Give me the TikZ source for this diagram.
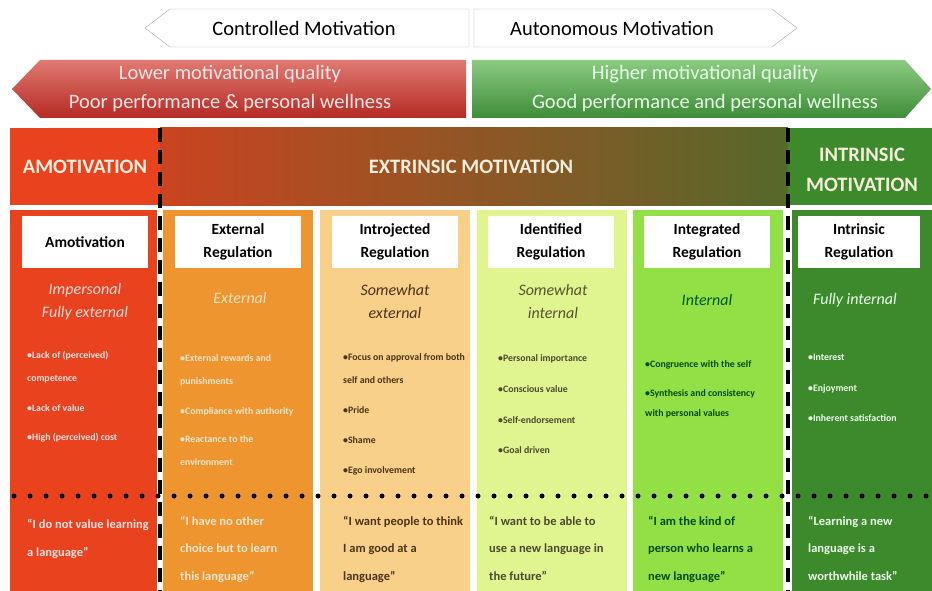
\documentclass[tikz,border=0pt]{standalone}
\usepackage{fontspec}
\setmainfont{Carlito}
\usetikzlibrary{arrows.meta}

\definecolor{amored}{HTML}{E8421E}
\definecolor{extorange}{HTML}{EE9530}
\definecolor{introbeige}{HTML}{F8D08A}
\definecolor{identlime}{HTML}{E0F590}
\definecolor{integgreen}{HTML}{92E045}
\definecolor{intrgreen}{HTML}{3D8A2C}
\definecolor{paletext}{HTML}{F6EEDC}
\definecolor{redtop}{HTML}{E07A72}
\definecolor{redbottom}{HTML}{B52A24}
\definecolor{greentop}{HTML}{8CCB82}
\definecolor{greenbottom}{HTML}{3E8C38}
\definecolor{extleft}{HTML}{CA4420}
\definecolor{extmid}{HTML}{9C5424}
\definecolor{extright}{HTML}{56682A}

\begin{document}
\begin{tikzpicture}[x=1pt, y=-1pt,
    banner/.style={font=\fontsize{20.5}{29}\selectfont, align=center},
    head/.style={font=\fontsize{20.5}{30}\selectfont\bfseries, text=paletext, align=center},
    titlebox/.style={fill=white, minimum width=126pt, minimum height=52pt, inner sep=0pt,
        align=center, font=\fontsize{15.5}{23}\selectfont\bfseries},
    sub/.style={align=center, font=\fontsize{16}{23}\selectfont\itshape},
    items/.style={anchor=base west, align=left, inner sep=0pt, font=\fontsize{9.8}{23}\selectfont\bfseries},
    says/.style={anchor=base west, align=left, inner sep=0pt, font=\fontsize{12.5}{27.5}\selectfont\bfseries},
    divider/.style={line width=4pt, dash pattern=on 14pt off 8pt}]
    \useasboundingbox (0,0) rectangle (932,591);

    % controlled / autonomous
    \draw[fill=white, draw=gray!70] (145,28) -- (170,9) -- (469,9) -- (469,47) -- (170,47) -- cycle;
    \draw[fill=white, draw=gray!70] (474,9) -- (772,9) -- (797,28) -- (772,47) -- (474,47) -- cycle;
    \node[banner] (ctrl) at (304,28) {Controlled Motivation};
    \node[banner] (auto) at (612,28) {Autonomous Motivation};

    % quality arrows
    \shade[top color=redtop, bottom color=redbottom] (12,89) -- (40,60) -- (466,60) -- (466,118) -- (40,118) -- cycle;
    \shade[top color=greentop, bottom color=greenbottom] (472,60) -- (905,60) -- (931,89) -- (905,118) -- (472,118) -- cycle;
    \node[banner, text=red!10!white] (lower) at (230,89) {Lower motivational quality\\Poor performance \& personal wellness};
    \node[banner, text=green!10!white] (higher) at (705,89) {Higher motivational quality\\Good performance and personal wellness};

    % header band
    \fill[amored] (10,128) rectangle (160,205);
    \shade[left color=extleft, middle color=extmid, right color=extright] (160,128) rectangle (788,205);
    \fill[intrgreen] (788,128) rectangle (932,205);
    \node[head] (amohead) at (85,167) {AMOTIVATION};
    \node[head] (exthead) at (471,167) {EXTRINSIC MOTIVATION};
    \node[head] (inthead) at (862,170) {INTRINSIC\\MOTIVATION};

    % columns
    \fill[amored] (10,210) rectangle (157,591);
    \fill[extorange] (163,210) rectangle (313,591);
    \fill[introbeige] (320,210) rectangle (470,591);
    \fill[identlime] (477,210) rectangle (627,591);
    \fill[integgreen] (633,210) rectangle (783,591);
    \fill[intrgreen] (792,210) rectangle (932,591);

    \node[titlebox] (amo) at (85,242) {Amotivation};
    \node[titlebox] (ext) at (238,242) {External\\Regulation};
    \node[titlebox] (intro) at (395,242) {Introjected\\Regulation};
    \node[titlebox] (ident) at (551,242) {Identified\\Regulation};
    \node[titlebox] (integ) at (707,242) {Integrated\\Regulation};
    \node[titlebox, minimum width=122pt] (intr) at (859,242) {Intrinsic\\Regulation};

    \node[sub, text=red!15!white] (amosub) at (85,302) {Impersonal\\Fully external};
    \node[sub, text=orange!25!white] (extsub) at (240,298) {External};
    \node[sub, text=brown!40!black] (introsub) at (395,302) {Somewhat\\external};
    \node[sub, text=olive!50!black] (identsub) at (553,302) {Somewhat\\internal};
    \node[sub, text=green!35!black] (integsub) at (707,300) {Internal};
    \node[sub, text=green!8!white] (intrsub) at (855,300) {Fully internal};

    % bullet lists, placed by the baseline of their last line
    \node[items, text=red!12!white] (amoitems) at (27,440) {•Lack of (perceived)\\competence\\[7pt]•Lack of value\\[6pt]•High (perceived) cost};
    \node[items, text=orange!20!white] (extitems) at (180,465) {•External rewards and\\punishments\\[7pt]•Compliance with authority\\[5pt]•Reactance to the\\environment};
    \node[items, text=brown!40!black] (introitems) at (343,473) {•Focus on approval from both\\self and others\\[7pt]•Pride\\[7pt]•Shame\\[7pt]•Ego involvement};
    \node[items, text=olive!40!black] (identitems) at (498,453) {•Personal importance\\[8pt]•Conscious value\\[8pt]•Self-endorsement\\[7pt]•Goal driven};
    \node[items, text=green!30!black] (integitems) at (645,416) {•Congruence with the self\\[6pt]•Synthesis and consistency\\[-3pt]with personal values};
    \node[items, text=green!8!white] (intritems) at (808,421) {•Interest\\[8pt]•Enjoyment\\[7pt]•Inherent satisfaction};

    % dividers
    \draw[dash pattern=on 0pt off 16pt, line cap=round, line width=5pt] (14,496) -- (932,496);
    \draw[divider] (160,128) -- (160,591);
    \draw[divider] (788,128) -- (788,591);

    \node[says, text=red!12!white] (amosays) at (27,556) {“I do not value learning\\a language”};
    \node[says, text=orange!20!white] (extsays) at (180,580) {“I have no other\\choice but to learn\\this language”};
    \node[says, text=brown!40!black] (introsays) at (343,580) {“I want people to think\\I am good at a\\language”};
    \node[says, text=olive!40!black] (identsays) at (489,580) {“I want to be able to\\use a new language in\\the future”};
    \node[says, text=green!30!black] (integsays) at (648,580) {“I am the kind of\\person who learns a\\new language”};
    \node[says, text=green!8!white] (intrsays) at (808,580) {“Learning a new\\language is a\\worthwhile task”};
\end{tikzpicture}
\end{document}
